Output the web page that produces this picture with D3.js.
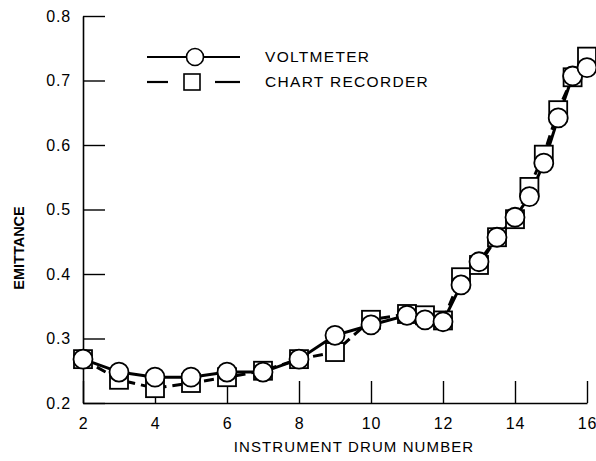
<!DOCTYPE html>
<html>
<head>
<meta charset="utf-8">
<script src="https://cdn.jsdelivr.net/npm/d3@7"></script>
<style>
  body { margin: 0; background: #fff; }
  svg text { font-family: "Liberation Sans", Arial, Helvetica, sans-serif; fill: #000; }
</style>
</head>
<body>
<div id="chart"></div>
<script>
const width = 596, height = 461;

// values
const drum = [2, 3, 4, 5, 6, 7, 8, 9, 10, 11, 11.5, 12, 12.5, 13, 13.5, 14, 14.4, 14.8, 15.2, 15.6, 16];
const voltmeter = [0.268, 0.248, 0.240, 0.240, 0.248, 0.248, 0.268, 0.305, 0.321, 0.336, 0.329, 0.326, 0.383, 0.419, 0.457, 0.488, 0.520, 0.572, 0.642, 0.707, 0.720];
const recorder = [0.268, 0.236, 0.223, 0.231, 0.240, 0.250, 0.268, 0.279, 0.329, 0.338, 0.336, 0.328, 0.395, 0.414, 0.457, 0.485, 0.535, 0.585, 0.654, 0.705, 0.737];
const xTicks = [2, 4, 6, 8, 10, 12, 14, 16];
const yTicks = [0.2, 0.3, 0.4, 0.5, 0.6, 0.7, 0.8];
const seriesNames = ["VOLTMETER", "CHART RECORDER"];

const svg = d3.select("#chart").append("svg")
    .attr("width", width).attr("height", height);

const x = d3.scaleLinear().domain([2, 16]).range([83, 587]);
const y = d3.scaleLinear().domain([0.2, 0.8]).range([403, 16]);

// axes
const xAxis = svg.append("g").attr("transform", `translate(0,${y(0.2)})`)
    .call(d3.axisBottom(x).tickValues(xTicks).tickSizeInner(-22).tickSizeOuter(0).tickPadding(15).tickFormat(d3.format("d")));
const yAxis = svg.append("g").attr("transform", `translate(${x(2)},0)`)
    .call(d3.axisLeft(y).tickValues(yTicks).tickSizeInner(-22).tickSizeOuter(0).tickPadding(12).tickFormat(d3.format(".1f")));

[xAxis, yAxis].forEach(a => {
    a.select(".domain").attr("stroke", "#000").attr("stroke-width", 1.6);
    a.selectAll(".tick line").attr("stroke", "#000").attr("stroke-width", 1.4);
    a.selectAll(".tick text").style("font-size", "16px").style("letter-spacing", "0.8px");
});

svg.append("text")
    .attr("x", 354).attr("y", 452)
    .attr("text-anchor", "middle")
    .style("font-size", "15px")
    .style("letter-spacing", "1.1px")
    .text("INSTRUMENT DRUM NUMBER");

svg.append("text")
    .attr("transform", "translate(24,248) rotate(-90)")
    .attr("text-anchor", "middle")
    .style("font-size", "14.5px")
    .style("font-weight", "bold")
    .text("EMITTANCE");

// lines
const line = d3.line().x(d => x(d[0])).y(d => y(d[1]));
const vPts = drum.map((d, i) => [d, voltmeter[i]]);
const rPts = drum.map((d, i) => [d, recorder[i]]);

svg.append("path").datum(rPts)
    .attr("d", line).attr("fill", "none")
    .attr("stroke", "#000").attr("stroke-width", 3)
    .attr("stroke-dasharray", "10,6");

svg.append("path").datum(vPts)
    .attr("d", line).attr("fill", "none")
    .attr("stroke", "#000").attr("stroke-width", 3);

// markers
const sq = 18, r = 9.5;
svg.append("g").selectAll("rect").data(rPts).join("rect")
    .attr("x", d => x(d[0]) - sq / 2).attr("y", d => y(d[1]) - sq / 2)
    .attr("width", sq).attr("height", sq)
    .attr("fill", "#fff").attr("stroke", "#000").attr("stroke-width", 1.8);

svg.append("g").selectAll("circle").data(vPts).join("circle")
    .attr("cx", d => x(d[0])).attr("cy", d => y(d[1])).attr("r", r)
    .attr("fill", "#fff").attr("stroke", "#000").attr("stroke-width", 1.8);

// legend
const lg = svg.append("g");
lg.append("line").attr("x1", 147).attr("x2", 240).attr("y1", 57).attr("y2", 57)
    .attr("stroke", "#000").attr("stroke-width", 2.2);
lg.append("circle").attr("cx", 195).attr("cy", 57).attr("r", 8.5)
    .attr("fill", "#fff").attr("stroke", "#000").attr("stroke-width", 1.6);
lg.append("line").attr("x1", 147).attr("x2", 168).attr("y1", 82).attr("y2", 82)
    .attr("stroke", "#000").attr("stroke-width", 2.2);
lg.append("line").attr("x1", 215).attr("x2", 240).attr("y1", 82).attr("y2", 82)
    .attr("stroke", "#000").attr("stroke-width", 2.2);
lg.append("rect").attr("x", 184).attr("y", 74).attr("width", 16).attr("height", 16)
    .attr("fill", "#fff").attr("stroke", "#000").attr("stroke-width", 1.6);
lg.selectAll("text.name").data(seriesNames).join("text")
    .attr("class", "name")
    .attr("x", 265).attr("y", (d, i) => 62 + i * 25)
    .style("font-size", "15.5px")
    .style("letter-spacing", "1.3px")
    .text(d => d);
</script>
</body>
</html>
